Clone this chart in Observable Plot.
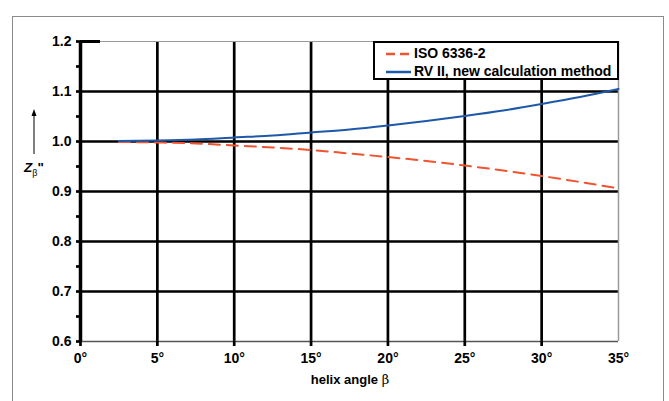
<!DOCTYPE html>
<html>
<head>
<meta charset="utf-8">
<script src="https://cdn.jsdelivr.net/npm/d3@7"></script>
<script src="https://cdn.jsdelivr.net/npm/@observablehq/plot@0.6"></script>
<style>
  html, body { margin: 0; padding: 0; background: #fff; }
  #wrap { position: relative; width: 669px; height: 401px; overflow: hidden; font-family: "Liberation Sans", Arial, sans-serif; }
  #frame { position: absolute; left: 12px; top: 16px; width: 652px; height: 420px; border: 1px solid #8a8a8a; box-sizing: border-box; }
  #chart { position: absolute; left: 0; top: 0; }
  #legend { position: absolute; left: 373px; top: 41px; width: 246px; height: 39px; box-sizing: border-box; border: 2px solid #000; background: #fff; font-weight: bold; font-size: 14px; color: #000; }
  .row { position: absolute; left: 11px; height: 18px; line-height: 18px; white-space: nowrap; }
  .row svg { vertical-align: middle; margin-right: 3px; }
  #xlabel { position: absolute; left: 0; width: 700px; top: 372px; text-align: center; font-weight: bold; font-size: 13px; }
  #ylabel { position: absolute; left: 24px; top: 160px; font-weight: bold; font-size: 13.5px; }
  #arrow { position: absolute; left: 29px; top: 108px; }
</style>
</head>
<body>
<div id="wrap">
  <div id="frame"></div>
  <div id="chart"></div>
  <div id="legend"></div>
  <div id="xlabel"></div>
  <svg id="arrow" width="10" height="48"><line x1="5" y1="46" x2="5" y2="6" stroke="#000" stroke-width="1"/><path d="M2.5,8 L5,1 L7.5,8 Z" fill="#000"/></svg>
  <div id="ylabel"><i>Z</i><sub style="font-weight:normal;font-size:9px;">β</sub>"</div>
</div>
<script>
// helix angle β (degrees)
const angles = [2.5, 5, 7.5, 10, 12.5, 15, 17.5, 20, 22.5, 25, 27.5, 30, 32.5, 35];
// ISO 6336-2
const isoValues = [0.999, 0.998, 0.996, 0.992, 0.988, 0.983, 0.976, 0.969, 0.961, 0.952, 0.942, 0.931, 0.919, 0.906];
// RV II, new calculation method
const rvValues = [1.001, 1.002, 1.004, 1.008, 1.012, 1.018, 1.024, 1.032, 1.041, 1.051, 1.062, 1.075, 1.089, 1.105];

const seriesNames = ["ISO 6336-2", "RV II, new calculation method"];
const seriesColors = ["#f0532f", "#1e58a8"];
const xTicks = [0, 5, 10, 15, 20, 25, 30, 35];
const yTicks = [0.6, 0.7, 0.8, 0.9, 1.0, 1.1, 1.2];
const yMinorTicks = [0.65, 0.75, 0.85, 0.95, 1.05, 1.15];
const xTitle = "helix angle ";
const xTitleSymbol = "β";

const isoData = angles.map((a, i) => ({angle: a, z: isoValues[i]}));
const rvData = angles.map((a, i) => ({angle: a, z: rvValues[i]}));

const chart = Plot.plot({
  width: 669,
  height: 401,
  marginLeft: 80,
  marginRight: 51,
  marginTop: 41,
  marginBottom: 60,
  x: {domain: [0, 35]},
  y: {domain: [0.6, 1.2]},
  style: {fontFamily: "'Liberation Sans', Arial, sans-serif", fontWeight: "bold", fontSize: "14px", color: "#000", background: "transparent", overflow: "visible"},
  marks: [
    Plot.ruleY(yTicks.slice(1, -1), {x1: 0, x2: 35, stroke: "#000", strokeWidth: 2.7}),
    Plot.ruleX(xTicks.slice(1, -1), {y1: 0.6, y2: 1.2, stroke: "#000", strokeWidth: 2.7}),
    Plot.ruleY([1.2], {x1: 0, x2: 35, stroke: "#9a9a9a", strokeWidth: 1}),
    Plot.ruleY([0.6], {x1: 0, x2: 35, stroke: "#555", strokeWidth: 1.5}),
    Plot.ruleX([35], {y1: 0.6, y2: 1.2, stroke: "#9a9a9a", strokeWidth: 1.5}),
    Plot.axisX({ticks: xTicks.slice(0, -1), tickSize: 5, strokeWidth: 2.7, tickFormat: () => "", label: null}),
    Plot.axisX({ticks: xTicks, tickSize: 5, tickPadding: 7, stroke: "none", tickFormat: d => d + "°", label: null}),
    Plot.axisY({ticks: yTicks, tickSize: 4, tickPadding: 5, strokeWidth: 2.7, tickFormat: d => d.toFixed(1), label: null}),
    Plot.axisY({ticks: yMinorTicks, tickSize: 4, strokeWidth: 2.7, tickFormat: () => "", label: null}),
    Plot.ruleX([0], {y1: 0.6, y2: 1.2, stroke: "#000", strokeWidth: 3.5}),
    Plot.ruleY([1.2], {x1: 0, x2: 1.3, stroke: "#000", strokeWidth: 3}),
    Plot.line(isoData, {x: "angle", y: "z", stroke: seriesColors[0], strokeWidth: 2, strokeDasharray: "11,7", curve: "monotone-x"}),
    Plot.line(rvData, {x: "angle", y: "z", stroke: seriesColors[1], strokeWidth: 2, curve: "monotone-x"})
  ]
});
document.getElementById("chart").appendChild(chart);

const legend = document.getElementById("legend");
seriesNames.forEach((name, i) => {
  const row = document.createElement("div");
  row.className = "row";
  row.style.top = (i === 0 ? 1 : 19) + "px";
  const dash = i === 0 ? 'stroke-dasharray="9,5"' : "";
  row.innerHTML = `<svg width="25" height="4"><line x1="0" y1="2" x2="25" y2="2" stroke="${seriesColors[i]}" stroke-width="2.5" ${dash}/></svg>` +
    `<span>${name}</span>`;
  legend.appendChild(row);
});

document.getElementById("xlabel").innerHTML = `${xTitle}<span style="font-weight:normal;font-family:'DejaVu Serif',serif;">${xTitleSymbol}</span>`;
</script>
</body>
</html>
